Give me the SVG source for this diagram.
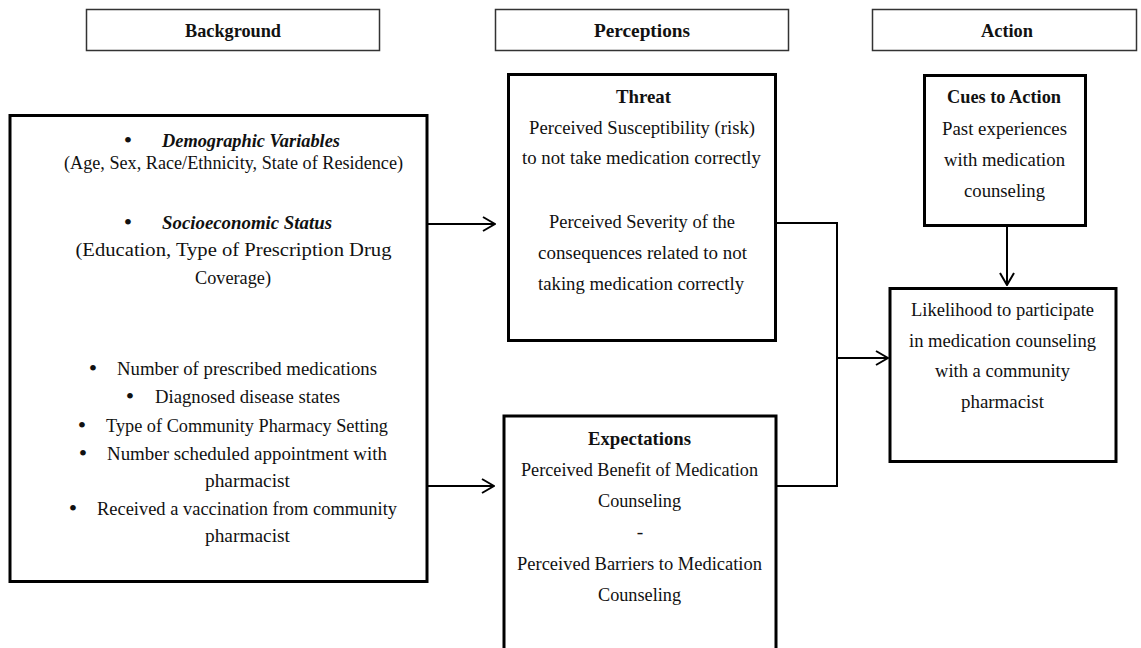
<svg xmlns="http://www.w3.org/2000/svg" width="1141" height="648" viewBox="0 0 1141 648">
<style>
text{font-family:"Liberation Serif","Times New Roman",serif;font-size:19.5px;fill:#111}
.b{font-weight:bold}
.bi{font-weight:bold;font-style:italic}
.c{text-anchor:middle}
.bu{font-size:24px;text-anchor:middle}
.hdr{fill:#fff;stroke:#333;stroke-width:1.5}
.box{fill:#fff;stroke:#000;stroke-width:3}
.ln{fill:none;stroke:#000;stroke-width:2}
</style>
<defs>
<marker id="arr" viewBox="0 0 14 16" refX="13" refY="8" markerWidth="14" markerHeight="16" markerUnits="userSpaceOnUse" orient="auto">
<path d="M1,1 L13,8 L1,15" fill="none" stroke="#000" stroke-width="2"/>
</marker>
</defs>
<rect width="1141" height="648" fill="#fff"/>

<g id="hdr-background">
<rect class="hdr" x="86.5" y="9.5" width="293" height="41"/>
<text class="b c" x="233" y="37" textLength="96" lengthAdjust="spacingAndGlyphs">Background</text>
</g>
<g id="hdr-perceptions">
<rect class="hdr" x="495.5" y="9.5" width="293" height="41"/>
<text class="b c" x="642" y="37" textLength="96" lengthAdjust="spacingAndGlyphs">Perceptions</text>
</g>
<g id="hdr-action">
<rect class="hdr" x="872.5" y="9.5" width="264" height="41"/>
<text class="b c" x="1007" y="37" textLength="52" lengthAdjust="spacingAndGlyphs">Action</text>
</g>

<g id="background">
<rect class="box" x="10" y="115.5" width="417" height="466"/>
<text class="bu" x="128" y="148">•</text>
<text class="bi" x="162" y="147" textLength="178" lengthAdjust="spacingAndGlyphs">Demographic Variables</text>
<text class="c" x="233.5" y="169" textLength="339" lengthAdjust="spacingAndGlyphs">(Age, Sex, Race/Ethnicity, State of Residence)</text>
<text class="bu" x="128" y="230">•</text>
<text class="bi" x="162" y="229" textLength="170" lengthAdjust="spacingAndGlyphs">Socioeconomic Status</text>
<text class="c" x="233.5" y="256" textLength="316" lengthAdjust="spacingAndGlyphs">(Education, Type of Prescription Drug</text>
<text class="c" x="233" y="284" textLength="76" lengthAdjust="spacingAndGlyphs">Coverage)</text>
<text class="bu" x="93" y="376">•</text>
<text x="117" y="375" textLength="260" lengthAdjust="spacingAndGlyphs">Number of prescribed medications</text>
<text class="bu" x="130" y="404">•</text>
<text x="155" y="403" textLength="185" lengthAdjust="spacingAndGlyphs">Diagnosed disease states</text>
<text class="bu" x="82" y="433">•</text>
<text x="106" y="432" textLength="282" lengthAdjust="spacingAndGlyphs">Type of Community Pharmacy Setting</text>
<text class="bu" x="83" y="461">•</text>
<text x="107" y="460" textLength="280" lengthAdjust="spacingAndGlyphs">Number scheduled appointment with</text>
<text class="c" x="247.5" y="487" textLength="85" lengthAdjust="spacingAndGlyphs">pharmacist</text>
<text class="bu" x="73" y="516">•</text>
<text x="97" y="515" textLength="300" lengthAdjust="spacingAndGlyphs">Received a vaccination from community</text>
<text class="c" x="247.5" y="542" textLength="85" lengthAdjust="spacingAndGlyphs">pharmacist</text>
</g>

<g id="threat">
<rect class="box" x="508.5" y="74.5" width="267" height="266"/>
<text class="b c" x="643.5" y="103" textLength="55" lengthAdjust="spacingAndGlyphs">Threat</text>
<text class="c" x="642" y="134" textLength="226" lengthAdjust="spacingAndGlyphs">Perceived Susceptibility (risk)</text>
<text class="c" x="641.5" y="164" textLength="239" lengthAdjust="spacingAndGlyphs">to not take medication correctly</text>
<text class="c" x="642" y="228" textLength="186" lengthAdjust="spacingAndGlyphs">Perceived Severity of the</text>
<text class="c" x="642.5" y="259" textLength="209" lengthAdjust="spacingAndGlyphs">consequences related to not</text>
<text class="c" x="641" y="290" textLength="206" lengthAdjust="spacingAndGlyphs">taking medication correctly</text>
</g>

<g id="expectations">
<rect class="box" x="504" y="416" width="272" height="240"/>
<text class="b c" x="639.5" y="445" textLength="103" lengthAdjust="spacingAndGlyphs">Expectations</text>
<text class="c" x="639.5" y="476" textLength="237" lengthAdjust="spacingAndGlyphs">Perceived Benefit of Medication</text>
<text class="c" x="639.5" y="507" textLength="83" lengthAdjust="spacingAndGlyphs">Counseling</text>
<text class="c" x="640" y="538">-</text>
<text class="c" x="639.5" y="570" textLength="245" lengthAdjust="spacingAndGlyphs">Perceived Barriers to Medication</text>
<text class="c" x="639.5" y="601" textLength="83" lengthAdjust="spacingAndGlyphs">Counseling</text>
</g>

<g id="cues">
<rect class="box" x="924.5" y="75.5" width="161" height="150"/>
<text class="b c" x="1004" y="103" textLength="114" lengthAdjust="spacingAndGlyphs">Cues to Action</text>
<text class="c" x="1004.5" y="135" textLength="125" lengthAdjust="spacingAndGlyphs">Past experiences</text>
<text class="c" x="1004.5" y="166" textLength="121" lengthAdjust="spacingAndGlyphs">with medication</text>
<text class="c" x="1004.5" y="197" textLength="81" lengthAdjust="spacingAndGlyphs">counseling</text>
</g>

<g id="likelihood">
<rect class="box" x="890" y="288.5" width="226" height="173"/>
<text class="c" x="1002.5" y="316" textLength="183" lengthAdjust="spacingAndGlyphs">Likelihood to participate</text>
<text class="c" x="1002.5" y="347" textLength="187" lengthAdjust="spacingAndGlyphs">in medication counseling</text>
<text class="c" x="1002.5" y="377" textLength="135" lengthAdjust="spacingAndGlyphs">with a community</text>
<text class="c" x="1002.5" y="408" textLength="83" lengthAdjust="spacingAndGlyphs">pharmacist</text>
</g>

<g id="connectors">
<path class="ln" d="M428,224 H495" marker-end="url(#arr)"/>
<path class="ln" d="M428,486 H494" marker-end="url(#arr)"/>
<path class="ln" d="M777,223 H837 V486 H777"/>
<path class="ln" d="M837,358 H888" marker-end="url(#arr)"/>
<path class="ln" d="M1007,226 V285" marker-end="url(#arr)"/>
</g>
</svg>
